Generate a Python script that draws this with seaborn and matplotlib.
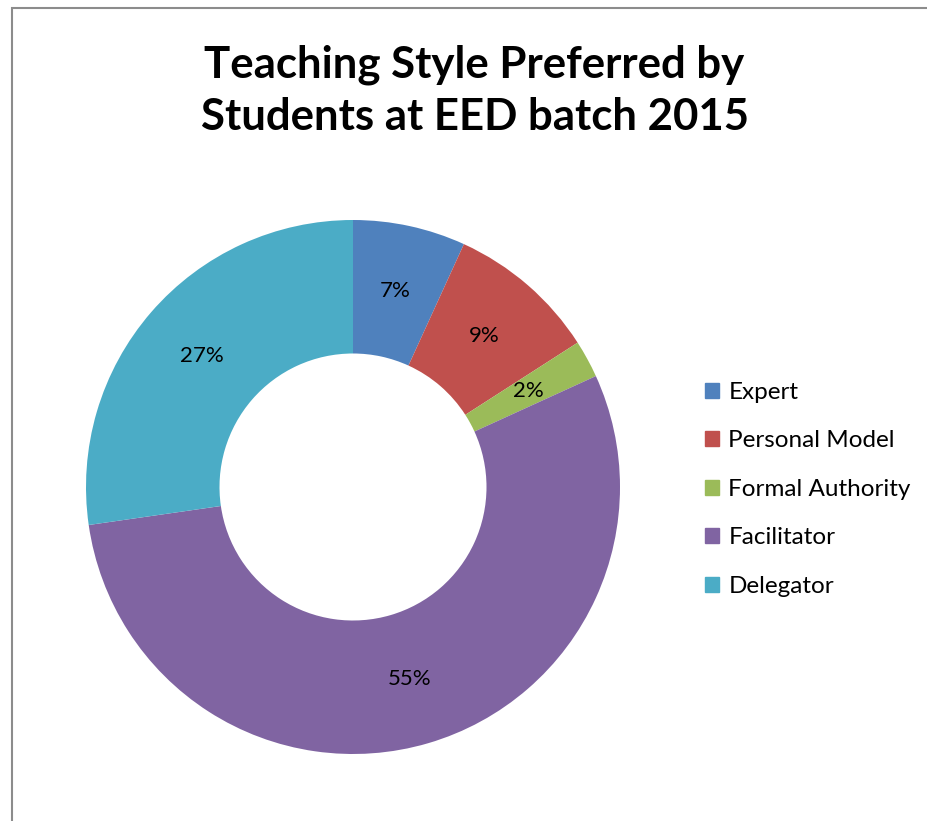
import matplotlib.pyplot as plt
import matplotlib.patches as mpatches
import seaborn as sns

# Chart data (student counts, shown as percentages)
styles = ["Expert", "Personal Model", "Formal Authority", "Facilitator", "Delegator"]
students = [3, 4, 1, 24, 12]
colors = ["#4F81BD", "#C0504D", "#9BBB59", "#8064A2", "#4BACC6"]

sns.set_theme(style="white")
plt.rcParams["font.family"] = ["Lato", "DejaVu Sans"]
plt.rcParams["text.color"] = "black"

fig = plt.figure(figsize=(9.27, 8.21), dpi=100)

# Donut axes, centred on the chart area
W, H = 927, 821
cx, cy, r = 353, 487, 267
ax = fig.add_axes([(cx - r) / W, (H - cy - r) / H, 2 * r / W, 2 * r / H])

wedges, texts, autotexts = ax.pie(
    students,
    colors=colors,
    startangle=90,
    counterclock=False,
    radius=1,
    autopct=lambda p: f"{p:.0f}%",
    pctdistance=0.75,
    wedgeprops={"width": 0.5, "linewidth": 0},
    textprops={"fontsize": 16, "color": "black"},
)
ax.set_xlim(-1, 1)
ax.set_ylim(-1, 1)
ax.set_aspect("equal")
ax.axis("off")

fig.text(0.512, 0.946, "Teaching Style Preferred by\nStudents at EED batch 2015",
         ha="center", va="top", fontsize=31.5, fontweight="bold", linespacing=1.38,
         color="black")

handles = [mpatches.Patch(color=c, label=s) for c, s in zip(colors, styles)]
fig.legend(handles=handles, loc="center left", bbox_to_anchor=(0.737, 0.404),
           frameon=False, fontsize=17.5, handlelength=0.56, handleheight=0.56,
           handletextpad=0.4, labelspacing=1.13, labelcolor="black")

# Chart area border (left and top edges visible)
fig.add_artist(mpatches.Rectangle((12 / W, -0.1), 1.2, 0.1 + (H - 8) / H,
                                  transform=fig.transFigure, fill=False,
                                  edgecolor="#8c8c8c", linewidth=1.5))

plt.savefig("out.png", dpi=100)
plt.close()
